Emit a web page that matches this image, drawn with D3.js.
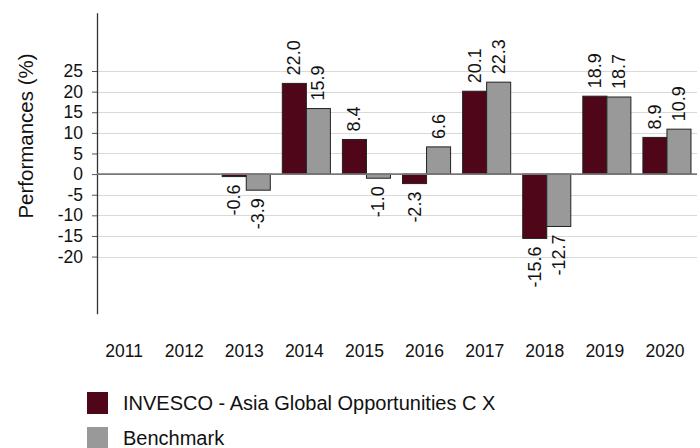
<!DOCTYPE html>
<html>
<head>
<meta charset="utf-8">
<script src="https://cdn.jsdelivr.net/npm/d3@7"></script>
<style>
  html, body { margin: 0; padding: 0; background: #fff; }
  svg { display: block; font-family: "Liberation Sans", Arial, sans-serif; }
</style>
</head>
<body>
<svg id="chart" width="700" height="448"></svg>
<script>
const years = ["2011", "2012", "2013", "2014", "2015", "2016", "2017", "2018", "2019", "2020"];
const fundValues = [null, null, -0.6, 22.0, 8.4, -2.3, 20.1, -15.6, 18.9, 8.9];
const benchValues = [null, null, -3.9, 15.9, -1.0, 6.6, 22.3, -12.7, 18.7, 10.9];
const yTicks = [-20, -15, -10, -5, 0, 5, 10, 15, 20, 25];
const seriesNames = ["INVESCO - Asia Global Opportunities C X", "Benchmark"];
const seriesColors = ["#4f0619", "#999999"];

const hyphen = s => s.replace(/\u2212/g, "-");
const fmtInt = d => hyphen(d3.format("d")(d));
const fmtVal = d => hyphen(d3.format(".1f")(d));

const svg = d3.select("#chart");
const x = d3.scaleBand().domain(years).range([96, 697]).paddingInner(0.2).paddingOuter(0.1);
const xs = d3.scaleBand().domain([0, 1]).range([0, x.bandwidth()]);
const y = d3.scaleLinear().domain([-34, 39]).range([314.3, 13.3]);

// gridlines
svg.append("g").selectAll("line").data(yTicks.filter(d => d !== 0)).join("line")
  .attr("x1", 97).attr("x2", 697)
  .attr("y1", d => Math.round(y(d)) + 0.5).attr("y2", d => Math.round(y(d)) + 0.5)
  .attr("stroke", "#d9d9d9").attr("stroke-width", 1);

// y axis
const yAxis = d3.axisLeft(y).tickValues(yTicks).tickSize(5).tickPadding(9).tickFormat(fmtInt);
const gy = svg.append("g").attr("transform", "translate(97,0)").call(yAxis);
gy.select(".domain").remove();
gy.selectAll(".tick line").attr("stroke", "#555");
gy.selectAll(".tick text").attr("font-size", 17.5).attr("fill", "#111").attr("font-family", "Liberation Sans, Arial, sans-serif");
svg.append("line").attr("x1", 97.5).attr("x2", 97.5).attr("y1", 13.3).attr("y2", 314.3)
  .attr("stroke", "#333").attr("stroke-width", 1.3);

// axis title
svg.append("text").attr("transform", "translate(33," + 136 + ") rotate(-90)")
  .attr("text-anchor", "middle").attr("font-size", 20.5).attr("fill", "#111")
  .text("Performances (%)");

// bars
const data = [];
years.forEach((yr, i) => {
  [fundValues[i], benchValues[i]].forEach((v, s) => {
    if (v !== null) data.push({ yr, s, v });
  });
});

svg.append("g").selectAll("rect").data(data).join("rect")
  .attr("x", d => x(d.yr) + xs(d.s))
  .attr("width", xs.bandwidth())
  .attr("y", d => Math.min(y(d.v), y(0)))
  .attr("height", d => Math.abs(y(d.v) - y(0)))
  .attr("fill", d => seriesColors[d.s])
  .attr("stroke", "#222").attr("stroke-width", 1);

// zero line
svg.append("line").attr("x1", 97).attr("x2", 697).attr("y1", y(0)).attr("y2", y(0))
  .attr("stroke", "#777").attr("stroke-width", 1.6);

// value labels
svg.append("g").selectAll("text").data(data).join("text")
  .attr("transform", d => {
    const cx = x(d.yr) + xs(d.s) + xs.bandwidth() / 2;
    const yy = d.v >= 0 ? y(d.v) - 8 : y(d.v) + 8;
    return "translate(" + (cx + 6) + "," + yy + ") rotate(-90)";
  })
  .attr("text-anchor", d => d.v >= 0 ? "start" : "end")
  .attr("font-size", 18).attr("fill", "#111")
  .text(d => fmtVal(d.v));

// x labels
const xAxis = d3.axisBottom(x).tickSize(0).tickPadding(0);
const gx = svg.append("g").attr("transform", "translate(-2,357)").call(xAxis);
gx.select(".domain").remove();
gx.selectAll(".tick text").attr("font-size", 17.5).attr("fill", "#111").attr("dy", 0)
  .attr("font-family", "Liberation Sans, Arial, sans-serif");

// legend
const lg = svg.append("g").selectAll("g").data(seriesNames).join("g")
  .attr("transform", (d, i) => "translate(87," + (392 + i * 35) + ")");
lg.append("rect").attr("width", 21).attr("height", 22).attr("fill", (d, i) => seriesColors[i]);
lg.append("text").attr("x", 36).attr("y", 18).attr("font-size", 20).attr("fill", "#111").text(d => d);
</script>
</body>
</html>
